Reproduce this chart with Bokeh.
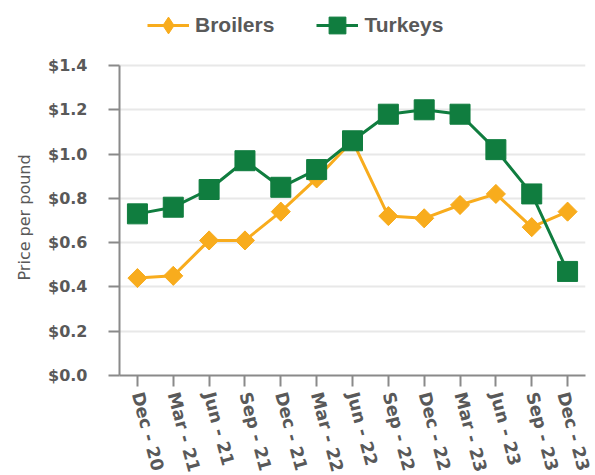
import numpy as np
from bokeh.plotting import figure
from bokeh.models import (FactorRange, Range1d, FixedTicker, NumeralTickFormatter,
                          Legend, LegendItem, ColumnDataSource, Title)
from bokeh.embed import file_html
from bokeh.resources import INLINE

quarters = ["Dec - 20", "Mar - 21", "Jun - 21", "Sep - 21", "Dec - 21", "Mar - 22",
            "Jun - 22", "Sep - 22", "Dec - 22", "Mar - 23", "Jun - 23", "Sep - 23", "Dec - 23"]
broilers = [0.44, 0.45, 0.61, 0.61, 0.74, 0.89, 1.06, 0.72, 0.71, 0.77, 0.82, 0.67, 0.74]
turkeys = [0.73, 0.76, 0.84, 0.97, 0.85, 0.93, 1.06, 1.18, 1.20, 1.18, 1.02, 0.82, 0.47]
y_ticks = [0.0, 0.2, 0.4, 0.6, 0.8, 1.0, 1.2, 1.4]

ORANGE = "#F8AC1D"
GREEN = "#107D3F"
TEXT = "#595959"
AXIS = "#8a8a8a"

src = ColumnDataSource(dict(q=quarters, b=broilers, t=turkeys))

# frame extends above $1.4 to leave room for the legend inside it
FRAME_H = 370
Y_TOP = 1.4 * FRAME_H / 310

p = figure(frame_width=466, frame_height=FRAME_H,
           x_range=FactorRange(*quarters, range_padding=0),
           y_range=Range1d(0, Y_TOP), output_backend="svg", toolbar_location=None,
           min_border_left=119, min_border_right=8, min_border_top=5, min_border_bottom=98)
p.outline_line_color = None
p.background_fill_color = "white"
p.border_fill_color = "white"

bl = p.line("q", "b", source=src, line_color=ORANGE, line_width=3)
# diamond (used as legend key) sits inside the rotated squares drawn over it
bd = p.scatter("q", "b", source=src, marker="diamond", size=18,
               fill_color=ORANGE, line_color=ORANGE)
bs = p.scatter("q", "b", source=src, marker="square", angle=np.pi / 4, size=13.5,
               fill_color=ORANGE, line_color=ORANGE)
tl = p.line("q", "t", source=src, line_color=GREEN, line_width=3)
ts = p.scatter("q", "t", source=src, marker="square", size=20,
               fill_color=GREEN, line_color=GREEN)

# axes
p.yaxis.ticker = FixedTicker(ticks=y_ticks)
p.yaxis.bounds = (0, 1.4)
p.yaxis.formatter = NumeralTickFormatter(format="$0.0")
for ax in (p.xaxis, p.yaxis):
    ax.axis_line_color = AXIS
    ax.axis_line_width = 2
    ax.major_tick_line_color = AXIS
    ax.major_tick_line_width = 2
    ax.major_tick_out = 11
    ax.major_tick_in = 0
    ax.minor_tick_line_color = None
    ax.major_label_text_font = "DejaVu Sans"
    ax.major_label_text_font_style = "bold"
    ax.major_label_text_color = TEXT
p.yaxis.major_label_text_font_size = "16px"
p.xaxis.major_label_text_font_size = "17.5px"
p.yaxis.major_label_standoff = 21
p.xaxis.major_label_standoff = 6
p.xaxis.major_label_orientation = -1.31

ylabel = Title(text="Price per pound", align="left", offset=95, standoff=23,
               text_font="DejaVu Sans", text_font_size="16px",
               text_font_style="normal", text_color=TEXT)
p.add_layout(ylabel, "left")

p.xgrid.grid_line_color = None
p.ygrid.grid_line_color = "#e8e8e8"
p.ygrid.grid_line_width = 2
p.ygrid.ticker = FixedTicker(ticks=y_ticks)

legend = Legend(items=[LegendItem(label="Broilers", renderers=[bl, bd]),
                       LegendItem(label="Turkeys", renderers=[tl, ts])],
                orientation="horizontal", location=(28, 327))
legend.label_text_font = "Liberation Sans"
legend.label_text_font_size = "21px"
legend.label_text_font_style = "bold"
legend.label_text_color = TEXT
legend.glyph_width = 42
legend.glyph_height = 46
legend.spacing = 42
legend.label_standoff = 6
legend.border_line_color = None
legend.background_fill_alpha = 0
legend.padding = 0
legend.margin = 0
p.add_layout(legend, "center")

open("out.html", "w").write(file_html(p, INLINE))
